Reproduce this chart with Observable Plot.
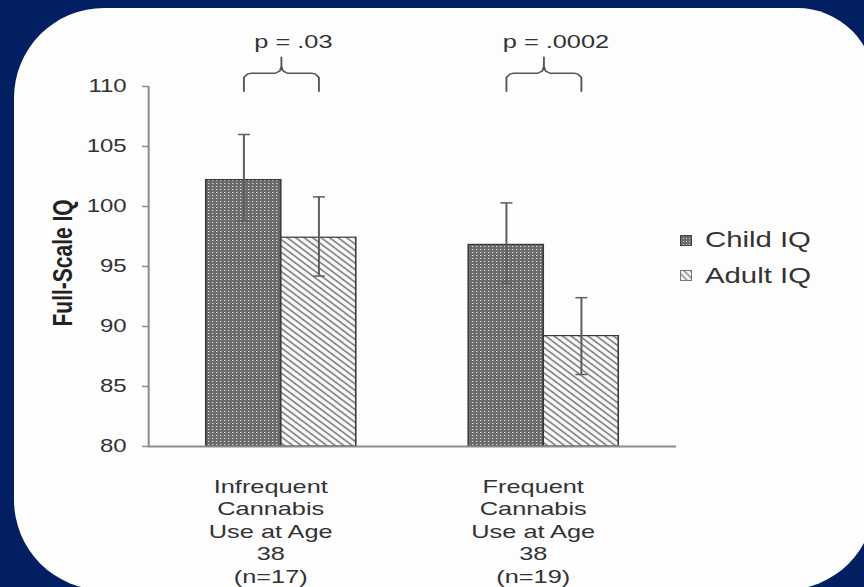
<!DOCTYPE html>
<html>
<head>
<meta charset="utf-8">
<script src="https://cdn.jsdelivr.net/npm/d3@7"></script>
<script src="https://cdn.jsdelivr.net/npm/@observablehq/plot@0.6"></script>
<style>
  html, body { margin: 0; padding: 0; width: 864px; height: 587px; overflow: hidden; background: #022061; }
  #panel { position: absolute; left: 14px; top: 8px; width: 861px; height: 582px; background: #fdfdfd;
           border-radius: 90px 78px 90px 90px; }
  #chart { position: absolute; left: 0; top: 0; width: 864px; height: 587px; }
  #defs { position: absolute; left: 0; top: 0; width: 0; height: 0; }
  #legend { position: absolute; left: 0; top: 0; font-family: "Liberation Sans", Arial, sans-serif; color: #333; }
  .lg-sw { position: absolute; width: 12px; height: 11px; }
  .lg-tx { position: absolute; font-size: 22px; line-height: 22px; white-space: nowrap;
           transform: scaleX(1.333); transform-origin: left center; }
  g[aria-label="y-axis tick"] { color: #8c8c8c; stroke-width: 1.5; }
  g[aria-label="y-axis tick label"] { color: #333; }
</style>
</head>
<body>
<div id="panel"></div>
<svg id="defs" width="0" height="0">
  <defs>
    <pattern id="pat-child" patternUnits="userSpaceOnUse" width="3" height="3">
      <rect width="3" height="3" fill="#6b6b6b"></rect>
      <rect width="1" height="1" fill="#dcdcdc"></rect>
    </pattern>
    <pattern id="pat-adult" patternUnits="userSpaceOnUse" width="4.5" height="4.5" patternTransform="rotate(45)">
      <rect width="4.5" height="4.5" fill="#fbfbfb"></rect>
      <line x1="0" y1="2.25" x2="4.5" y2="2.25" stroke="#8a8a8a" stroke-width="1.6"></line>
    </pattern>
  </defs>
</svg>
<div id="chart"></div>
<div id="legend"></div>
<script>
// ---- data ----
const groups = ["Infrequent\nCannabis\nUse at Age\n38\n(n=17)", "Frequent\nCannabis\nUse at Age\n38\n(n=19)"];
const series = ["Child IQ", "Adult IQ"];
const childIQ = [102.2, 96.8];
const adultIQ = [97.4, 89.2];
const childLow = [98.8, 93.6];
const childHigh = [106.0, 100.3];
const adultLow = [94.2, 86.0];
const adultHigh = [100.8, 92.4];
const pLabels = ["p = .03", "p = .0002"];
const yTicks = [80, 85, 90, 95, 100, 105, 110];

// ---- layout (the reference is horizontally stretched ~4:3 -> 16:9) ----
const STRETCH = 4 / 3;
const W = 864, H = 587;
const innerW = W / STRETCH;
const groupStep = 3.5;          // distance between groups, in bar widths
const xDomain = [-1.27, 5.77];  // bar-width units
const fills = {"Child IQ": "url(#pat-child)", "Adult IQ": "url(#pat-adult)"};

const rows = groups.flatMap((g, gi) => series.map((s, si) => ({
  group: g, gi, series: s,
  pos: gi * groupStep + si,
  value: si === 0 ? childIQ[gi] : adultIQ[gi],
  lo: si === 0 ? childLow[gi] : adultLow[gi],
  hi: si === 0 ? childHigh[gi] : adultHigh[gi]
})));

// brace template (relative x in bar units, y in IQ units)
const braceHalf = [[0, 109.6], [0, 110.75], [0.05, 111.05], [0.1, 111.1], [0.42, 111.1], [0.48, 111.3], [0.5, 111.7], [0.5, 112.45]];
const braceShape = braceHalf.concat(braceHalf.slice().reverse().map(([x, y]) => [1 - x, y]));
const bracePts = groups.flatMap((g, gi) => braceShape.map(([x, y]) => ({gi, x: gi * groupStep + x, y})));

const chart = Plot.plot({
  width: innerW,
  height: H,
  marginLeft: 111,
  marginRight: 141,
  marginTop: 86,
  marginBottom: 141,
  style: {background: "transparent", fontFamily: "'Liberation Sans', Arial, sans-serif", fontSize: "18px", color: "#333"},
  x: {domain: xDomain, axis: null},
  y: {domain: [80, 110], ticks: yTicks, tickSize: 4.5, tickPadding: 12, label: null},
  marks: [
    Plot.rectY(rows.filter(d => d.series === "Child IQ"), {x1: d => d.pos - 0.5, x2: d => d.pos + 0.5, y1: 80, y2: "value",
      fill: fills["Child IQ"], stroke: "#3a3a3a", strokeWidth: 1.2}),
    Plot.rectY(rows.filter(d => d.series === "Adult IQ"), {x1: d => d.pos - 0.5, x2: d => d.pos + 0.5, y1: 80, y2: "value",
      fill: fills["Adult IQ"], stroke: "#3a3a3a", strokeWidth: 1.2}),
    Plot.ruleX(rows, {x: "pos", y1: "lo", y2: "hi", stroke: "#5e5e5e", strokeWidth: 1.5}),
    Plot.link(rows, {x1: d => d.pos - 0.08, x2: d => d.pos + 0.08, y1: "hi", y2: "hi", stroke: "#5e5e5e", strokeWidth: 1.5}),
    Plot.link(rows, {x1: d => d.pos - 0.08, x2: d => d.pos + 0.08, y1: "lo", y2: "lo", stroke: "#5e5e5e", strokeWidth: 1.5}),
    Plot.ruleY([80], {stroke: "#8c8c8c", strokeWidth: 2}),
    Plot.ruleX([xDomain[0]], {y1: 80, y2: 110, stroke: "#8c8c8c", strokeWidth: 1.5}),
    Plot.line(bracePts, {x: "x", y: "y", z: "gi", stroke: "#555", strokeWidth: 1.4}),
    Plot.text(pLabels, {x: (d, i) => i * groupStep + 0.5, y: 113.75, text: d => d, dx: 9, fontSize: 19, fill: "#333"}),
    Plot.text(groups, {x: (d, i) => i * groupStep + 0.5, frameAnchor: "bottom", lineAnchor: "top", dy: 30, dx: -8,
      text: d => d, lineHeight: 1.19, fontSize: 19, fill: "#333"}),
    Plot.text(["Full-Scale IQ"], {frameAnchor: "left", rotate: -90, dx: -64.5, dy: 60, text: d => d,
      fontWeight: "bold", fontSize: 21, fill: "#222"})
  ]
});
chart.setAttribute("width", W);
chart.setAttribute("height", H);
chart.setAttribute("preserveAspectRatio", "none");
chart.style.width = W + "px";
chart.style.height = H + "px";
chart.style.maxWidth = "none";
document.getElementById("chart").appendChild(chart);

// legend
const legend = document.getElementById("legend");
series.forEach((s, i) => {
  const cy = 240 + i * 35.5;
  const sw = document.createElementNS("http://www.w3.org/2000/svg", "svg");
  sw.setAttribute("class", "lg-sw");
  sw.setAttribute("width", 12); sw.setAttribute("height", 11);
  sw.style.left = "680px"; sw.style.top = (cy - 5.5) + "px";
  sw.innerHTML = `<rect x="0.5" y="0.5" width="11" height="10" fill="${fills[s]}" stroke="${i === 0 ? '#444' : '#777'}" stroke-width="1"></rect>`;
  legend.appendChild(sw);
  const tx = document.createElement("div");
  tx.className = "lg-tx";
  tx.textContent = s;
  tx.style.left = "705px"; tx.style.top = (cy - 11) + "px";
  legend.appendChild(tx);
});
</script>
</body>
</html>
